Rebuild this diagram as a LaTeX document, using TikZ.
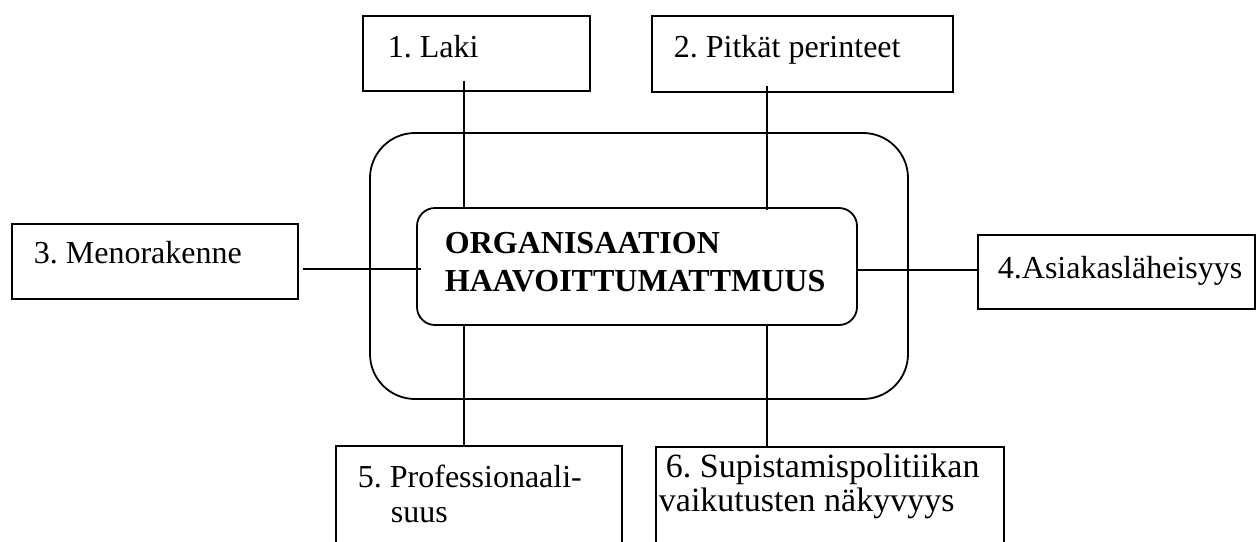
\documentclass[tikz,border=0pt]{standalone}
\usepackage{fontspec}
\setmainfont{Liberation Serif}
\frenchspacing
\begin{document}
\begin{tikzpicture}[x=1pt,y=-1pt,line width=1.8pt,
  every node/.style={font=\fontsize{32}{38}\selectfont},
  box/.style={draw,rectangle,inner sep=0pt},
  roundbox/.style={draw,rectangle,inner sep=0pt},
  txt/.style={inner sep=0pt,anchor=base west},
  bigtxt/.style={txt,font=\fontsize{34}{40}\selectfont},
  link/.style={draw,line width=1.8pt}]
\clip (0,0) rectangle (1257,541);

% outer frame and central box
\node[roundbox,rounded corners=45pt,minimum width=538pt,minimum height=266pt] (outer) at (639,266) {};
\node[roundbox,rounded corners=18pt,minimum width=440pt,minimum height=117pt] (core) at (637,266.5) {};
\node[txt,font=\fontsize{32}{38}\selectfont\bfseries] (corea) at (444,253) {ORGANISAATION};
\node[txt,font=\fontsize{32}{38}\selectfont\bfseries] (coreb) at (444,291) {HAAVOITTUMATTMUUS};

% surrounding factor boxes
\node[box,minimum width=227pt,minimum height=75pt] (laki) at (476.5,53.5) {};
\node[box,minimum width=301pt,minimum height=76pt] (pitkat) at (802.5,54) {};
\node[box,minimum width=286pt,minimum height=75pt] (meno) at (155,261.5) {};
\node[box,minimum width=277pt,minimum height=74pt] (asiakas) at (1116.5,272) {};
\node[box,minimum width=286pt,minimum height=100pt] (prof) at (479,496) {};
\node[box,minimum width=348pt,minimum height=100pt] (supist) at (830,497) {};

\node[txt] (lakit) at (387,57) {1. Laki};
\node[txt] (pitkatt) at (673,57) {2. Pitkät perinteet};
\node[txt] (menot) at (33,263) {3. Menorakenne};
\node[txt] (asiakast) at (997,278) {4.Asiakasläheisyys};
\node[txt] (profa) at (357,487) {5. Professionaali-};
\node[txt] (profb) at (390,522) {suus};
\node[bigtxt] (supista) at (665,477) {6. Supistamispolitiikan};
\node[bigtxt] (supistb) at (658,511) {vaikutusten näkyvyys};

% connector guide positions
\coordinate (lx) at (464,0);
\coordinate (rx) at (767,0);
\coordinate (ly) at (0,269);
\coordinate (ry) at (0,270);

% connectors
\draw[link] ([yshift=11pt]laki.south -| lx) -- (core.north -| lx);
\draw[link] ([yshift=7pt]pitkat.south -| rx) -- ([yshift=-3pt]core.north -| rx);
\draw[link] ([xshift=4pt]meno.east |- ly) -- ([xshift=5pt]core.west |- ly);
\draw[link] (core.east |- ry) -- (asiakas.west |- ry);
\draw[link] ([yshift=2pt]core.south -| lx) -- (prof.north -| lx);
\draw[link] (core.south -| rx) -- (supist.north -| rx);
\end{tikzpicture}
\end{document}
